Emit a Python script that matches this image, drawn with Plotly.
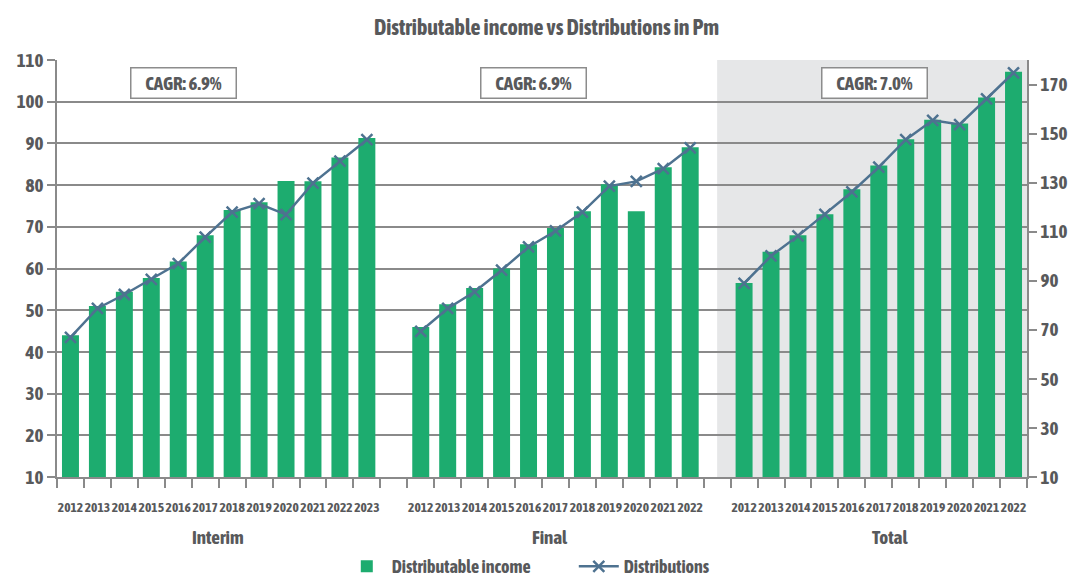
import plotly.graph_objects as go

# ---------------- data ----------------
interim_years = ["2012", "2013", "2014", "2015", "2016", "2017", "2018", "2019", "2020", "2021", "2022", "2023"]
final_years = ["2012", "2013", "2014", "2015", "2016", "2017", "2018", "2019", "2020", "2021", "2022"]
total_years = ["2012", "2013", "2014", "2015", "2016", "2017", "2018", "2019", "2020", "2021", "2022"]
group_names = ["Interim", "Final", "Total"]
cagr_labels = ["CAGR: 6.9%", "CAGR: 6.9%", "CAGR: 7.0%"]

interim_income = [44.0, 51.0, 54.4, 57.7, 61.7, 68.0, 74.0, 75.9, 81.0, 80.9, 86.6, 91.3]
final_income = [46.0, 51.4, 55.3, 60.0, 65.8, 69.7, 73.7, 80.2, 73.7, 84.3, 89.1]
total_income = [56.5, 64.0, 68.0, 73.0, 79.0, 84.7, 91.0, 95.7, 94.8, 101.0, 107.2]

interim_dist = [66.9, 78.7, 84.4, 90.6, 97.0, 107.8, 118.0, 121.4, 117.0, 129.8, 138.8, 147.5]
final_dist = [69.4, 78.7, 85.5, 94.3, 103.8, 110.3, 118.0, 128.6, 130.5, 135.7, 144.2]
total_dist = [88.9, 100.1, 108.3, 117.1, 126.2, 136.3, 147.5, 155.4, 153.7, 164.2, 174.8]

# ---------------- build slots (one empty slot between groups) ----------------
groups = [
    (interim_years, interim_income, interim_dist),
    (final_years, final_income, final_dist),
    (total_years, total_income, total_dist),
]
xs, labels, income, dist = [], [], [], []
group_start = []
pos = 0
for gi, (yrs, inc, dst) in enumerate(groups):
    group_start.append(pos)
    for y, a, b in zip(yrs, inc, dst):
        xs.append(pos); labels.append(y); income.append(a); dist.append(b)
        pos += 1
    if gi < len(groups) - 1:
        xs.append(pos); labels.append(""); income.append(None); dist.append(None)
        pos += 1
n_slots = pos

FONT = "Asap Condensed, PT Sans Narrow, Fira Sans Condensed, Liberation Sans Narrow, DejaVu Sans Condensed, sans-serif"
TXT = "#58595b"
GRID = "#8a8a8a"
GREEN = "#1dac6f"
BLUE = "#4e7290"

# page body has an 8px default margin -> figure is sized to fit the 1085x585 window
W, H = 1077, 577

fig = go.Figure()
fig.add_trace(go.Bar(
    x=xs, y=income, name="Distributable income",
    marker=dict(color=GREEN, line=dict(width=0)), width=0.63,
))
fig.add_trace(go.Scatter(
    x=xs, y=dist, name="Distributions", yaxis="y2", mode="lines+markers",
    line=dict(color=BLUE, width=2.5),
    marker=dict(symbol="x-thin", size=11, line=dict(color=BLUE, width=2.5)),
    connectgaps=False,
))

# shaded "Total" region starts mid-way through the empty slot before the group
fig.add_shape(type="rect", xref="x", yref="paper",
              x0=group_start[2] - 1, x1=n_slots - 0.5, y0=0, y1=1,
              fillcolor="#e6e7e8", line=dict(width=0), layer="below")

# right edge green border
fig.add_shape(type="line", xref="paper", yref="paper",
              x0=1.0567, x1=1.0567, y0=-0.26, y1=1.12,
              line=dict(color=GREEN, width=3))

annotations = []
cagr_x = [4.21, 17.2, 29.83]
for cx, txt in zip(cagr_x, cagr_labels):
    annotations.append(dict(
        x=cx, y=0.945, xref="x", yref="paper", text=txt, showarrow=False,
        font=dict(family=FONT, size=19, color=TXT, weight="bold"),
        bgcolor="white", bordercolor="#8c8c8c", borderwidth=1.5, borderpad=2,
        width=100, height=25, xanchor="center", yanchor="middle",
    ))
group_label_x = [5.48, 17.8, 30.4]
for gx, name in zip(group_label_x, group_names):
    annotations.append(dict(
        x=gx, y=-0.1437, xref="x", yref="paper", text=name, showarrow=False,
        font=dict(family=FONT, size=19, color=TXT, weight="bold"),
        xanchor="center", yanchor="middle",
    ))

fig.update_layout(
    width=W, height=H,
    margin=dict(l=49, r=58, t=51.5, b=108, autoexpand=False),
    paper_bgcolor="white", plot_bgcolor="white",
    title=dict(text="Distributable income vs Distributions in Pm",
               x=0.5, xanchor="center", y=1 - 19 / H, yanchor="middle", yref="container",
               font=dict(family=FONT, size=22, color=TXT, weight="bold")),
    showlegend=True,
    legend=dict(orientation="h", x=0.2936, xanchor="left", y=-0.215, yanchor="middle",
                font=dict(family=FONT, size=18, color=TXT, weight="bold"),
                itemwidth=40, tracegroupgap=0, entrywidth=177, entrywidthmode="pixels",
                bgcolor="rgba(0,0,0,0)"),
    xaxis=dict(
        range=[-0.5, n_slots - 0.5], automargin=False,
        tickmode="array", tickvals=xs, ticktext=labels, tickangle=0,
        ticks="", showgrid=False, zeroline=False,
        tickfont=dict(family=FONT, size=13.5, color=TXT, weight="bold"),
        ticklabelstandoff=17,
        showline=True, linecolor=GRID, linewidth=1.5,
        minor=dict(tickmode="array", tickvals=[i - 0.5 for i in range(n_slots + 1)],
                   ticks="outside", ticklen=9, tickcolor=GRID, tickwidth=1.5, showgrid=False),
    ),
    yaxis=dict(
        range=[10, 110], tickmode="linear", tick0=10, dtick=10, automargin=False,
        showgrid=True, gridcolor=GRID, gridwidth=1.5,
        showline=True, linecolor=GRID, linewidth=1.5,
        ticks="outside", ticklen=8, tickcolor=GRID, tickwidth=1.5,
        tickfont=dict(family=FONT, size=19, color=TXT, weight="bold"),
        zeroline=False,
    ),
    yaxis2=dict(
        range=[10, 180], overlaying="y", side="right", automargin=False,
        tickmode="array", tickvals=list(range(10, 171, 20)),
        showgrid=False, showline=True, linecolor=GRID, linewidth=1.5,
        ticks="outside", ticklen=8, tickcolor=GRID, tickwidth=1.5,
        tickfont=dict(family=FONT, size=19, color=TXT, weight="bold"),
        zeroline=False,
    ),
    annotations=annotations,
    bargap=0.37,
)

fig.write_html("out.html")
